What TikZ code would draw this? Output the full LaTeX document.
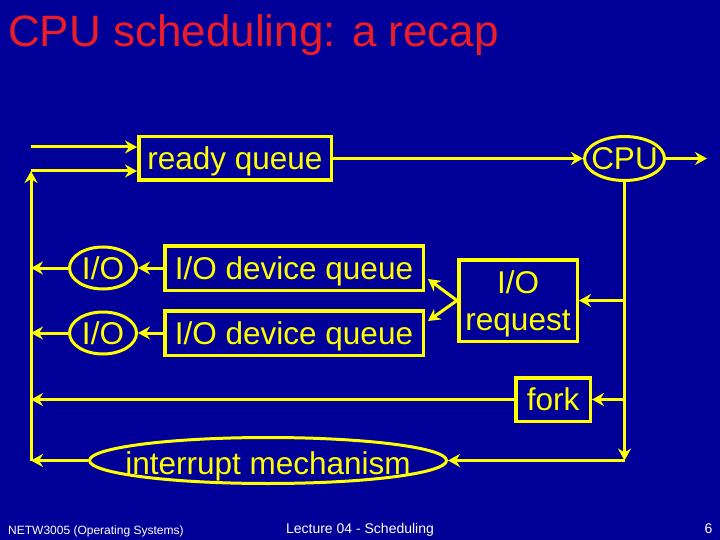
\documentclass[tikz,border=0pt]{standalone}
\usepackage{fontspec}
\setmainfont{Liberation Sans}
\usepackage{tikz}
\usepackage{xcolor}
\definecolor{slide_blue}{HTML}{000099}
\definecolor{slide_yellow}{HTML}{FFFF00}
\definecolor{slide_red}{HTML}{EE1C24}
\usetikzlibrary{shapes.geometric,positioning,calc,arrows.meta}
\tikzset{QUEUE/.style={rectangle,draw=slide_yellow,line width=3.5pt,text=slide_yellow,inner sep=0pt,text depth=0pt,minimum height=43.5pt,align=center,font=\fontsize{31.5}{37.5}\selectfont}}
\tikzset{OVAL/.style={ellipse,draw=slide_yellow,line width=3pt,text=slide_yellow,inner sep=0pt,font=\fontsize{31.5}{37.5}\selectfont}}
\tikzset{OVALTEXT/.style={text=slide_yellow,inner sep=0pt,font=\fontsize{31.5}{37.5}\selectfont}}
\tikzset{ARROW/.style={draw=slide_yellow,line width=3pt,-{Stealth[length=12pt,width=13pt,inset=4pt]}}}
\tikzset{FOOTER/.style={text=white,inner sep=0pt,font=\fontsize{12}{14}\selectfont}}

\begin{document}
\begin{tikzpicture}[x=1pt,y=-1pt]

\useasboundingbox (0,0) rectangle (720,540);
\fill[slide_blue] (0,0) rectangle (720,540);

\node[anchor=base west,text=slide_red,inner sep=0pt,font=\fontsize{44}{52}\selectfont] (n_title) at (8,47) {CPU scheduling: a recap};

\node[QUEUE,minimum width=192.5pt] (n_ready) at (235,158.5) {ready queue};
\node[OVAL,minimum width=80pt,minimum height=44pt,label={[OVALTEXT]center:CPU}] (n_cpu) at (624.5,158.5) {};

\node[QUEUE,minimum width=258.5pt,minimum height=44.5pt] (n_dev1) at (294,268) {I/O device queue};
\node[QUEUE,minimum width=258.5pt,minimum height=44.5pt,below=17pt of n_dev1] (n_dev2) {I/O device queue};
\node[OVAL,minimum width=67pt,minimum height=42pt,left=25pt of n_dev1] (n_io1) {I/O};
\node[OVAL,minimum width=67pt,minimum height=42pt,left=25pt of n_dev2] (n_io2) {I/O};

\node[QUEUE,minimum width=118.5pt,minimum height=81.5pt] (n_request) at (518,300.5) {I/O\\request};
\node[QUEUE,minimum width=74.5pt] (n_fork) at (553,399.5) {fork};
\node[OVAL,minimum width=357pt,minimum height=46pt,label={[OVALTEXT,yshift=-6pt]center:interrupt mechanism}] (n_interrupt) at (268,460.5) {};

\coordinate (c_new) at (31,147);
\coordinate (c_left_top) at (31,171);
\coordinate (c_left_bot) at (n_interrupt.west-|c_left_top);
\coordinate (c_right_bot) at (n_cpu.south|-n_interrupt.east);
\coordinate (c_out) at ($(n_cpu.east)+(41,0)$);

\draw[ARROW] (c_new) -- (c_new-|n_ready.west);
\draw[ARROW] (c_left_bot) -- (c_left_top);
\draw[ARROW] (c_left_top) -- (c_left_top-|n_ready.west);
\draw[ARROW] (n_ready.east) -- (n_cpu.west);
\draw[ARROW] (n_cpu.east) -- (c_out);

\draw[ARROW] (n_cpu.south) -- (c_right_bot);
\draw[ARROW] (c_right_bot) -- (n_interrupt.east);
\draw[ARROW] (n_interrupt.west) -- (c_left_bot);
\draw[ARROW] (n_request.east-|n_cpu.south) -- (n_request.east);
\draw[ARROW] (n_fork.east-|n_cpu.south) -- (n_fork.east);
\draw[ARROW] (n_fork.west) -- (n_fork.west-|c_left_top);

\draw[ARROW] (n_request.west) -- ($(n_dev1.south east)+(3,-13)$);
\draw[ARROW] (n_request.west) -- ($(n_dev2.north east)+(3,12)$);
\draw[ARROW] (n_dev1.west) -- (n_io1.east);
\draw[ARROW] (n_dev2.west) -- (n_io2.east);
\draw[ARROW] (n_io1.west) -- (n_io1.west-|c_left_top);
\draw[ARROW] (n_io2.west) -- (n_io2.west-|c_left_top);

\node[FOOTER,anchor=base west] (n_course) at (8,534) {NETW3005 (Operating Systems)};
\node[FOOTER,anchor=base,font=\fontsize{14}{16}\selectfont] (n_lecture) at (360,533) {Lecture 04 - Scheduling};
\node[FOOTER,anchor=base,font=\fontsize{14}{16}\selectfont] (n_page) at (708.5,533) {6};

\end{tikzpicture}
\end{document}
